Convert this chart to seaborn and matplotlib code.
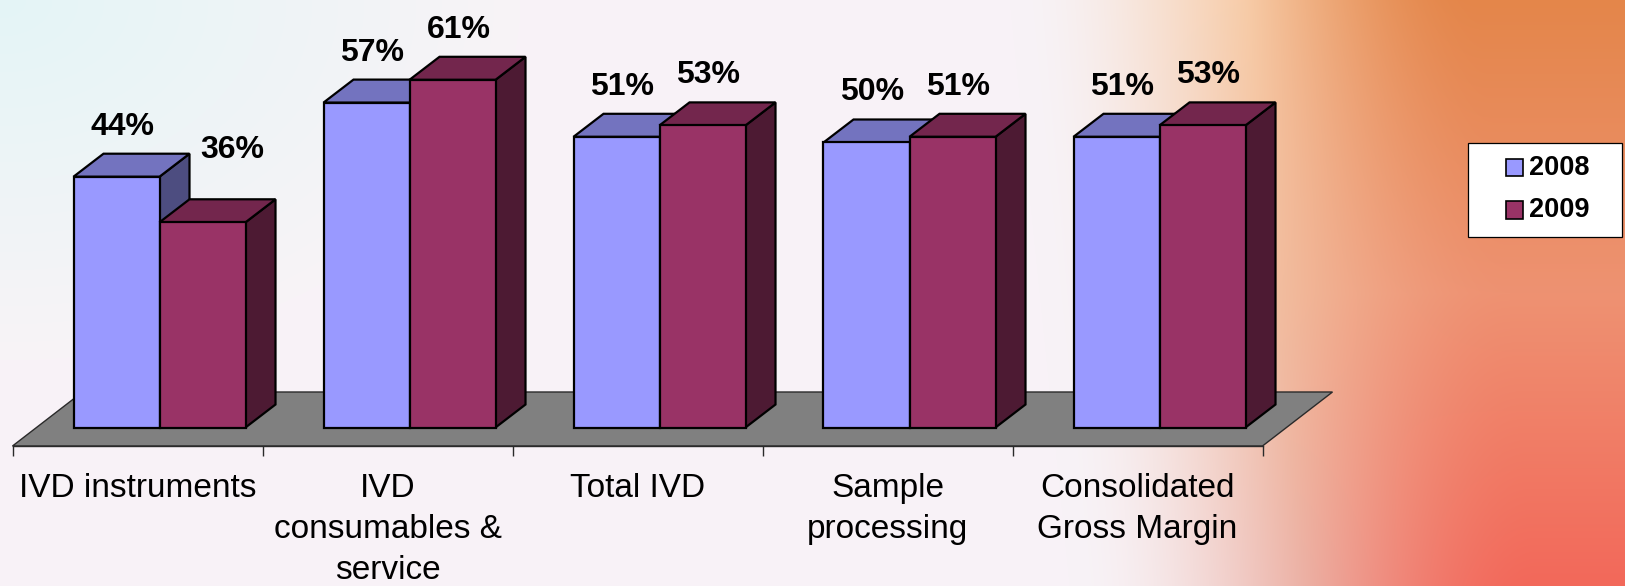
import numpy as np
import pandas as pd
import matplotlib
matplotlib.use("Agg")
import matplotlib.pyplot as plt
from matplotlib.patches import Polygon, Rectangle
from matplotlib.colors import to_rgb
import seaborn as sns

# ---------------------------------------------------------------- data
segments = [
    "IVD instruments",
    "IVD\nconsumables &\nservice",
    "Total IVD",
    "Sample\nprocessing",
    "Consolidated\nGross Margin",
]
years = ["2008", "2009"]
margin_2008 = [44, 57, 51, 50, 51]
margin_2009 = [36, 61, 53, 51, 53]

front_colors = {"2008": "#9999FF", "2009": "#993366"}

# ---------------------------------------------------------------- layout (pixels)
W, H, DPI = 1625, 586, 100
X0_PX = 159.5        # centre of first category group (bar front plane)
STEP_PX = 250.0      # distance between category groups
BASE_PX = 427.5      # bar base line, from top of figure
PX_PER_PCT = 5.7     # vertical pixels per percentage point

BAR_DEPTH_PX = (30.0, 23.0)    # receding offset of each bar
FLOOR_FRONT_PX = (-22.0, 18.5) # floor front edge relative to bar front plane
FLOOR_DEPTH_PX = (70.0, 54.0)  # total floor depth


def dx(px):
    return px / STEP_PX


def dy(px):
    return px / PX_PER_PCT


def to_x(px):
    return (px - X0_PX) / STEP_PX


def to_y(py):
    return (BASE_PX - py) / PX_PER_PCT


def shade(color, f):
    r, g, b = to_rgb(color)
    return (r * f, g * f, b * f)


plt.rcParams["font.family"] = ["Liberation Sans", "DejaVu Sans"]

fig = plt.figure(figsize=(W / DPI, H / DPI), dpi=DPI)
ax = fig.add_axes([0, 0, 1, 1])
xlim = (to_x(0), to_x(W))
ylim = (to_y(H), to_y(0))

# ---------------------------------------------------------------- background wash
yy, xx = np.mgrid[0:H, 0:W].astype(float)
cool = np.array([228, 245, 246]) / 255
pale = np.array([248, 243, 247]) / 255
t = np.clip(np.sqrt((xx / 520) ** 2 + (yy / 360) ** 2), 0, 1)[..., None]
base = cool * (1 - t) + pale * t

v = (yy / H)[..., None]


def vgrad(top, mid, bot):
    top, mid, bot = (np.array(c) / 255 for c in (top, mid, bot))
    return np.where(v < 0.5, top * (1 - 2 * v) + mid * (2 * v),
                    mid * (2 - 2 * v) + bot * (2 * v - 1))


peach = vgrad((247, 204, 168), (242, 190, 160), (236, 176, 164))
warm = vgrad((228, 134, 74), (238, 146, 114), (243, 104, 90))
s = np.clip((xx - 1010 - 60 * v[..., 0]) / 470, 0, 1)
w = (s * s * (3 - 2 * s))[..., None]
bg = np.where(w < 0.5,
              base * (1 - 2 * w) + peach * (2 * w),
              peach * (2 - 2 * w) + warm * (2 * w - 1))
ax.imshow(bg, extent=(xlim[0], xlim[1], ylim[0], ylim[1]), origin="upper",
          aspect="auto", zorder=0, interpolation="bilinear")

# ---------------------------------------------------------------- floor
fx0, fy0 = dx(FLOOR_FRONT_PX[0]), -dy(FLOOR_FRONT_PX[1])
fdx, fdy = dx(FLOOR_DEPTH_PX[0]), dy(FLOOR_DEPTH_PX[1])
n = len(segments)
left, right = -0.5 + fx0, n - 0.5 + fx0
floor = Polygon([(left, fy0), (right, fy0), (right + fdx, fy0 + fdy),
                 (left + fdx, fy0 + fdy)], closed=True,
                facecolor="#808080", edgecolor="#2a2a2a", linewidth=1.0, zorder=1)
ax.add_patch(floor)

# ---------------------------------------------------------------- bars
df = pd.DataFrame({
    "Segment": segments * 2,
    "Year": [years[0]] * n + [years[1]] * n,
    "Margin": margin_2008 + margin_2009,
})
sns.barplot(data=df, x="Segment", y="Margin", hue="Year", order=segments,
            hue_order=years, palette=front_colors, width=0.688, saturation=1,
            edgecolor="black", linewidth=1.6, errorbar=None, legend=False, ax=ax)

bars = sorted(ax.patches[1:], key=lambda p: p.get_x())
bdx, bdy = dx(BAR_DEPTH_PX[0]), dy(BAR_DEPTH_PX[1])
prev_h = None
for k, bar in enumerate(bars):
    x0, w_, h = bar.get_x(), bar.get_width(), bar.get_height()
    x1 = x0 + w_
    face = bar.get_facecolor()
    z = 3 + k * 0.1
    side = Polygon([(x1, 0), (x1 + bdx, bdy), (x1 + bdx, h + bdy), (x1, h)],
                   closed=True, facecolor=shade(face, 0.5), edgecolor="black",
                   linewidth=1.6, joinstyle="miter", zorder=z)
    top = Polygon([(x0, h), (x0 + bdx, h + bdy), (x1 + bdx, h + bdy), (x1, h)],
                  closed=True, facecolor=shade(face, 0.75), edgecolor="black",
                  linewidth=1.6, joinstyle="miter", zorder=z + 0.01)
    ax.add_patch(side)
    ax.add_patch(top)
    bar.set_zorder(z + 0.02)
    bar.set_joinstyle("miter")

    cx = x0 + w_ / 2
    second = (k % 2 == 1)
    if second and prev_h is not None and h < prev_h:
        # keep the label clear of the taller neighbour
        lx, ly = cx + bdx, prev_h + bdy + dy(4)
    else:
        lx, ly = cx + dx(6), h + bdy + dy(27)
    ax.text(lx, ly, f"{h:.0f}%", ha="center", va="center", fontsize=23,
            fontweight="bold", color="black", zorder=10)
    prev_h = h

# ---------------------------------------------------------------- category axis
for name in ["top", "left", "right"]:
    ax.spines[name].set_visible(False)
ax.spines["bottom"].set_position(("data", fy0))
ax.spines["bottom"].set_bounds(left, right)
ax.spines["bottom"].set_color("#2a2a2a")
ax.spines["bottom"].set_linewidth(1.0)
ax.spines["bottom"].set_zorder(2)
ax.set_xticks(np.arange(n) + fx0, segments)
ax.set_xticks(np.arange(n + 1) - 0.5 + fx0, minor=True)
ax.tick_params(axis="x", which="major", length=0, pad=19.5, labelsize=24,
               labelcolor="black")
ax.tick_params(axis="x", which="minor", length=7.2, width=1.0, color="#2a2a2a",
               direction="out")
for lbl in ax.get_xticklabels():
    lbl.set_linespacing(1.42)
    lbl.set_multialignment("center")
ax.set_yticks([])
ax.set_xlabel("")
ax.set_ylabel("")

# ---------------------------------------------------------------- legend box
lx0, ly0, lx1, ly1 = 1467.7, 143.3, 1621.7, 237.3
ax.add_patch(Rectangle((to_x(lx0), to_y(ly1)), to_x(lx1) - to_x(lx0),
                       to_y(ly0) - to_y(ly1), facecolor="white",
                       edgecolor="black", linewidth=0.9, zorder=11))
sq = 17.6
for year, cy in zip(years, [167.7, 210.0]):
    ax.add_patch(Rectangle((to_x(1505.7), to_y(cy + sq / 2)), dx(sq), dy(sq),
                           facecolor=front_colors[year], edgecolor="black",
                           linewidth=1.2, zorder=12))
    ax.text(to_x(1529.5), to_y(cy), year, ha="left", va="center",
            fontsize=19.5, fontweight="bold", color="black", zorder=12)

ax.set_xlim(*xlim)
ax.set_ylim(*ylim)
fig.savefig("out.png", dpi=DPI)
